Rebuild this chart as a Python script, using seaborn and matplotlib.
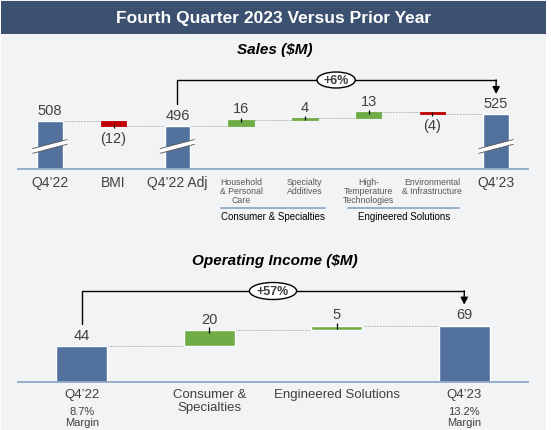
import matplotlib
matplotlib.use("Agg")
import matplotlib.pyplot as plt
from matplotlib.patches import Rectangle, Polygon, Ellipse
import seaborn as sns

# =====================================================
# DATA
# =====================================================

sales_labels = ["Q4\u201922", "BMI", "Q4\u201922 Adj",
                "Household\n& Personal\nCare", "Specialty\nAdditives",
                "High-\nTemperature\nTechnologies", "Environmental\n& Infrastructure",
                "Q4\u201923"]
sales_values = [508, -12, 496, 16, 4, 13, -4, 525]
sales_is_total = [True, False, True, False, False, False, False, True]
sales_value_text = ["508", "(12)", "496", "16", "4", "13", "(4)", "525"]
sales_groups = ["Consumer & Specialties", "Engineered Solutions"]
sales_change = "+6%"

oi_labels = ["Q4\u201922", "Consumer &\nSpecialties", "Engineered Solutions", "Q4\u201923"]
oi_values = [44, 20, 5, 69]
oi_is_total = [True, False, False, True]
oi_margins = ["8.7%\nMargin", "", "", "13.2%\nMargin"]
oi_change = "+57%"

# =====================================================
# STYLE
# =====================================================

sns.set_theme(style="white")
plt.rcParams["font.family"] = ["Liberation Sans", "DejaVu Sans"]

BLUE = "#52719D"
GREEN = "#70AD47"
RED = "#C00000"
HEADER = "#3C5170"
BG = "#F2F3F5"
TXT = "#404040"
LIGHT_TXT = "#595959"
AXIS = "#8EA9C9"

W, H = 551, 431

fig = plt.figure(figsize=(W / 100, H / 100), dpi=100)
fig.patch.set_facecolor("white")
fig.patches.append(Rectangle((1 / W, 0), 545 / W, 1, transform=fig.transFigure,
                             facecolor=BG, edgecolor="none", zorder=-2))
fig.patches.append(Rectangle((1 / W, (H - 35) / H), 545 / W, 33 / H,
                             transform=fig.transFigure, facecolor=HEADER,
                             edgecolor="none", zorder=-1))
fig.text(274 / W, 1 - 18 / H, "Fourth Quarter 2023 Versus Prior Year",
         color="white", fontsize=12.5, fontweight="bold", ha="center", va="center")
fig.text(275 / W, 1 - 50 / H, "Sales ($M)", color="black", fontsize=11,
         fontweight="bold", fontstyle="italic", ha="center", va="center")
fig.text(275 / W, 1 - 261 / H, "Operating Income ($M)", color="black", fontsize=11,
         fontweight="bold", fontstyle="italic", ha="center", va="center")


def clean(ax):
    ax.set_facecolor("none")
    for s in ["top", "left", "right"]:
        ax.spines[s].set_visible(False)
    ax.spines["bottom"].set_color(AXIS)
    ax.spines["bottom"].set_linewidth(1.3)
    ax.set_xticks([])
    ax.set_yticks([])
    ax.set_xlim(-0.5, 7.5)


def bracket(ax, x0, x1, y_start, y_top, y_end, x_oval, w_oval, h_oval, text):
    ax.plot([x0, x0, x1], [y_start, y_top, y_top], color="black", lw=1.0,
            solid_joinstyle="miter", zorder=3, clip_on=False)
    ax.annotate("", xy=(x1, y_end), xytext=(x1, y_top + 0.2),
                arrowprops=dict(arrowstyle="-|>,head_width=0.18,head_length=0.35",
                                color="black", lw=1.0, shrinkA=0, shrinkB=0),
                zorder=3)
    ax.add_patch(Ellipse((x_oval, y_top), w_oval, h_oval, facecolor="white",
                         edgecolor="black", lw=1.0, zorder=4, clip_on=False))
    ax.text(x_oval, y_top, text, ha="center", va="center", fontsize=9,
            fontweight="bold", color=TXT, zorder=5)


# =====================================================
# SALES WATERFALL
# =====================================================

ax1 = fig.add_axes([18 / W, (H - 170) / H, 510 / W, 110 / H])
clean(ax1)
y_lo = 397
ax1.set_ylim(y_lo, 653)
u1 = 256 / 110  # data units per pixel

running = 0
for i, v in enumerate(sales_values):
    if sales_is_total[i]:
        running = v
        ax1.bar(i, v - y_lo, bottom=y_lo, width=0.4, color=BLUE, zorder=2)
        # break marks
        x0, x1 = i - 0.27, i + 0.27
        yb = y_lo + 20 * u1
        band = Polygon([(x0, yb - 10), (x1, yb + 11), (x1, yb + 22), (x0, yb + 1)],
                       closed=True, facecolor="white", edgecolor="none", zorder=3)
        ax1.add_patch(band)
        ax1.plot([x0, x1], [yb - 10, yb + 11], color="#555555", lw=0.6, zorder=4)
        ax1.plot([x0, x1], [yb + 1, yb + 22], color="#555555", lw=0.6, zorder=4)
        ax1.annotate(sales_value_text[i], (i, v), xytext=(0, 3), textcoords="offset points",
                     ha="center", va="bottom", fontsize=10.5, color=TXT)
        level = v
    else:
        start_level = running
        running = running + v
        lo, hi = min(start_level, running), max(start_level, running)
        col = GREEN if v > 0 else RED
        ax1.bar(i, hi - lo, bottom=lo, width=0.4, color=col, edgecolor=col,
                linewidth=0.6, zorder=2)
        if v > 0:
            ax1.plot([i], [hi], marker="|", ms=3.5, mew=0.9, color="black", zorder=3)
            ax1.annotate(sales_value_text[i], (i, hi), xytext=(0, 3),
                         textcoords="offset points", ha="center", va="bottom",
                         fontsize=10.5, color=TXT)
        else:
            ax1.plot([i], [lo], marker="|", ms=3.5, mew=0.9, color="black", zorder=3)
            ax1.annotate(sales_value_text[i], (i, lo), xytext=(0, -3),
                         textcoords="offset points", ha="center", va="top",
                         fontsize=10.5, color=TXT)
        level = running
    # dashed connector to next bar
    if i < len(sales_values) - 1:
        ax1.plot([i + 0.2, i + 0.8], [level, level], color="#A6A6A6", lw=0.6,
                 ls=(0, (2, 1.5)), zorder=1)
    # category labels
    if sales_is_total[i] or i == 1:
        ax1.annotate(sales_labels[i], (i, y_lo), xytext=(0, -4), textcoords="offset points",
                     ha="center", va="top", fontsize=10, color=TXT, annotation_clip=False)
    else:
        ax1.annotate(sales_labels[i], (i, y_lo), xytext=(0, -6), textcoords="offset points",
                     ha="center", va="top", fontsize=6.3, color=LIGHT_TXT,
                     linespacing=1.0, annotation_clip=False)

# group underlines
for (xa, xb), name in zip([(2.68, 4.32), (4.68, 6.42)], sales_groups):
    yline = y_lo - 39 * u1
    ax1.plot([xa, xb], [yline, yline], color=AXIS, lw=1.3, clip_on=False)
    ax1.text((xa + xb) / 2, yline - 3 * u1, name, ha="center", va="top",
             fontsize=7, color="black")

bracket(ax1, 2, 7, 496 + 22 * u1, y_lo + 89 * u1, 525 + 20 * u1,
        4.49, 0.6, 16 * u1, sales_change)

# =====================================================
# OPERATING INCOME WATERFALL
# =====================================================

ax2 = fig.add_axes([18 / W, (H - 383) / H, 510 / W, 103 / H])
clean(ax2)
ax2.set_ylim(0, 126)
u2 = 126 / 103

oi_pos = [0.5, 2.5, 4.5, 6.5]
running = 0
for i, v in enumerate(oi_values):
    x = oi_pos[i]
    if oi_is_total[i]:
        ax2.bar(x, v, width=0.8, color=BLUE, zorder=2)
        running = v
        ax2.annotate(str(v), (x, v), xytext=(0, 3), textcoords="offset points",
                     ha="center", va="bottom", fontsize=10.5, color=TXT)
    else:
        lo = running
        running = running + v
        ax2.bar(x, v, bottom=lo, width=0.8, color=GREEN, zorder=2)
        ax2.plot([x], [running], marker="|", ms=5, mew=0.9, color="black", zorder=3)
        ax2.annotate(str(v), (x, running), xytext=(0, 3), textcoords="offset points",
                     ha="center", va="bottom", fontsize=10.5, color=TXT)
    if i < len(oi_values) - 1:
        ax2.plot([x + 0.4, oi_pos[i + 1] - 0.4], [running, running], color="#A6A6A6",
                 lw=0.6, ls=(0, (2, 1.5)), zorder=1)
    ax2.annotate(oi_labels[i], (x, 0), xytext=(0, -4), textcoords="offset points",
                 ha="center", va="top", fontsize=9.5, color=TXT, linespacing=1.2,
                 annotation_clip=False)
    if oi_margins[i]:
        ax2.annotate(oi_margins[i], (x, 0), xytext=(0, -17.5), textcoords="offset points",
                     ha="center", va="top", fontsize=8, color=TXT, linespacing=1.05,
                     annotation_clip=False)

bracket(ax2, 0.5, 6.5, 44 + 22 * u2, 91 * u2, 69 + 21 * u2,
        3.5, 0.74, 17 * u2, oi_change)

fig.savefig("out.png", dpi=100, facecolor=fig.get_facecolor())
